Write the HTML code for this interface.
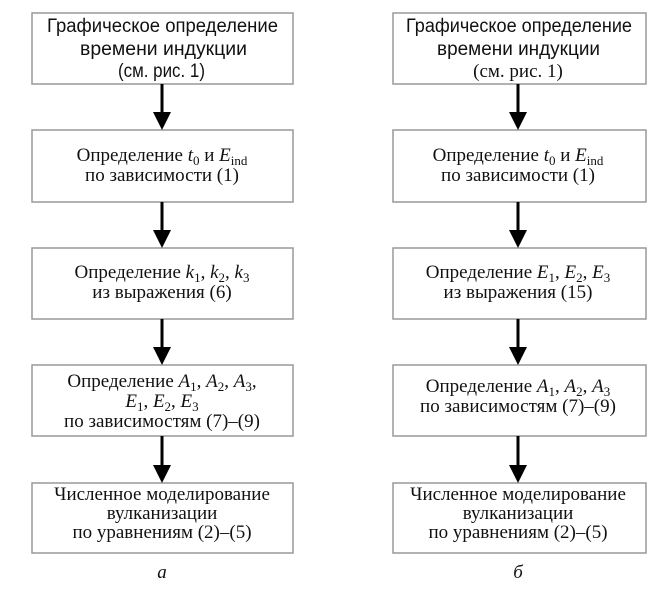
<!DOCTYPE html>
<html><head><meta charset="utf-8"><style>
html,body{margin:0;padding:0;background:#fff;}
svg{display:block}
.s{font-family:"Liberation Sans",sans-serif;font-size:19px;fill:#111}
.r{font-family:"Liberation Serif",serif;font-size:19px;fill:#111}
.i{font-style:italic}
.sub{font-size:13px}
</style></head><body>
<svg width="658" height="591" viewBox="0 0 658 591" xmlns="http://www.w3.org/2000/svg">
<g fill="none" stroke="#999" stroke-width="1.5">
<rect x="32" y="13" width="261" height="71"/>
<rect x="32" y="130" width="261" height="72"/>
<rect x="32" y="248" width="261" height="71"/>
<rect x="32" y="365" width="261" height="71"/>
<rect x="32" y="483" width="261" height="70"/>
<rect x="393" y="13" width="253" height="71"/>
<rect x="393" y="130" width="253" height="72"/>
<rect x="393" y="248" width="253" height="71"/>
<rect x="393" y="365" width="253" height="71"/>
<rect x="393" y="483" width="253" height="70"/>
</g>
<g stroke="#000" stroke-width="3">
<line x1="162" y1="84" x2="162" y2="115"/><line x1="162" y1="202" x2="162" y2="232"/>
<line x1="162" y1="319" x2="162" y2="350"/><line x1="162" y1="436" x2="162" y2="468"/>
<line x1="518" y1="84" x2="518" y2="115"/><line x1="518" y1="202" x2="518" y2="232"/>
<line x1="518" y1="319" x2="518" y2="350"/><line x1="518" y1="436" x2="518" y2="468"/>
</g>
<g fill="#000">
<polygon points="153,112 171,112 162,130"/><polygon points="153,230 171,230 162,248"/>
<polygon points="153,347 171,347 162,365"/><polygon points="153,465 171,465 162,483"/>
<polygon points="509,112 527,112 518,130"/><polygon points="509,230 527,230 518,248"/>
<polygon points="509,347 527,347 518,365"/><polygon points="509,465 527,465 518,483"/>
</g>
<!-- left -->
<text class="s" x="47" y="32" textLength="231" lengthAdjust="spacingAndGlyphs">Графическое определение</text>
<text class="s" x="80" y="55" textLength="167" lengthAdjust="spacingAndGlyphs">времени индукции</text>
<text class="s" x="118" y="77" textLength="87" lengthAdjust="spacingAndGlyphs">(см. рис. 1)</text>
<text class="r" x="162" y="161" text-anchor="middle">Определение <tspan class="i">t</tspan><tspan class="sub" dy="4">0</tspan><tspan dy="-4"> и </tspan><tspan class="i">E</tspan><tspan class="sub" dy="4">ind</tspan></text>
<text class="r" x="162" y="181" text-anchor="middle">по зависимости (1)</text>
<text class="r" x="162" y="278" text-anchor="middle">Определение <tspan class="i">k</tspan><tspan class="sub" dy="4">1</tspan><tspan dy="-4">, </tspan><tspan class="i">k</tspan><tspan class="sub" dy="4">2</tspan><tspan dy="-4">, </tspan><tspan class="i">k</tspan><tspan class="sub" dy="4">3</tspan></text>
<text class="r" x="162" y="298" text-anchor="middle">из выражения (6)</text>
<text class="r" x="162" y="387" text-anchor="middle">Определение <tspan class="i">A</tspan><tspan class="sub" dy="4">1</tspan><tspan dy="-4">, </tspan><tspan class="i">A</tspan><tspan class="sub" dy="4">2</tspan><tspan dy="-4">, </tspan><tspan class="i">A</tspan><tspan class="sub" dy="4">3</tspan><tspan dy="-4">,</tspan></text>
<text class="r" x="162" y="407" text-anchor="middle"><tspan class="i">E</tspan><tspan class="sub" dy="4">1</tspan><tspan dy="-4">, </tspan><tspan class="i">E</tspan><tspan class="sub" dy="4">2</tspan><tspan dy="-4">, </tspan><tspan class="i">E</tspan><tspan class="sub" dy="4">3</tspan></text>
<text class="r" x="162" y="427" text-anchor="middle">по зависимостям (7)–(9)</text>
<text class="r" x="162" y="500" text-anchor="middle">Численное моделирование</text>
<text class="r" x="162" y="519" text-anchor="middle">вулканизации</text>
<text class="r" x="162" y="538" text-anchor="middle">по уравнениям (2)–(5)</text>
<text class="r i" x="162" y="578" text-anchor="middle">а</text>
<!-- right -->
<text class="s" x="406" y="32" textLength="226" lengthAdjust="spacingAndGlyphs">Графическое определение</text>
<text class="s" x="437" y="55" textLength="163" lengthAdjust="spacingAndGlyphs">времени индукции</text>
<text class="r" x="518" y="77" text-anchor="middle">(см. рис. 1)</text>
<text class="r" x="518" y="161" text-anchor="middle">Определение <tspan class="i">t</tspan><tspan class="sub" dy="4">0</tspan><tspan dy="-4"> и </tspan><tspan class="i">E</tspan><tspan class="sub" dy="4">ind</tspan></text>
<text class="r" x="518" y="181" text-anchor="middle">по зависимости (1)</text>
<text class="r" x="518" y="278" text-anchor="middle">Определение <tspan class="i">E</tspan><tspan class="sub" dy="4">1</tspan><tspan dy="-4">, </tspan><tspan class="i">E</tspan><tspan class="sub" dy="4">2</tspan><tspan dy="-4">, </tspan><tspan class="i">E</tspan><tspan class="sub" dy="4">3</tspan></text>
<text class="r" x="518" y="298" text-anchor="middle">из выражения (15)</text>
<text class="r" x="518" y="392" text-anchor="middle">Определение <tspan class="i">A</tspan><tspan class="sub" dy="4">1</tspan><tspan dy="-4">, </tspan><tspan class="i">A</tspan><tspan class="sub" dy="4">2</tspan><tspan dy="-4">, </tspan><tspan class="i">A</tspan><tspan class="sub" dy="4">3</tspan></text>
<text class="r" x="518" y="412" text-anchor="middle">по зависимостям (7)–(9)</text>
<text class="r" x="518" y="500" text-anchor="middle">Численное моделирование</text>
<text class="r" x="518" y="519" text-anchor="middle">вулканизации</text>
<text class="r" x="518" y="538" text-anchor="middle">по уравнениям (2)–(5)</text>
<text class="r i" x="518" y="578" text-anchor="middle">б</text>
</svg>
</body></html>
